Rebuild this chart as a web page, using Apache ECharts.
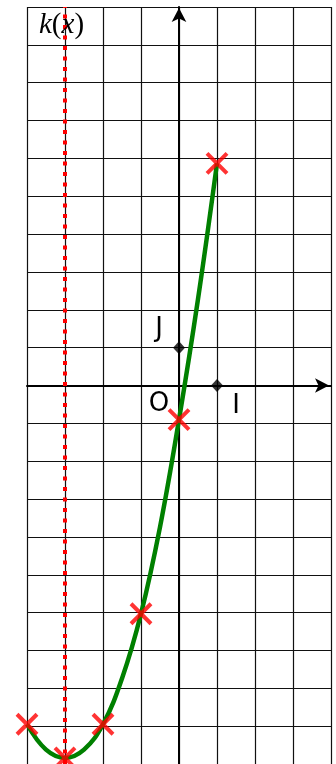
<!DOCTYPE html>
<html>
	<head>
		<meta charset="utf-8">
		<title></title>
		<style>
			html,body{margin:0;padding:0;background:#fff;}
			#main{
				width: 336px;
				height: 764px;
			}
		</style>
	</head>
	<body>
		<div id="main"></div>
		<script src="https://cdn.jsdelivr.net/npm/echarts@6/dist/echarts.min.js"></script>
		<script>
			// points of k (red crosses)
			var xs=[-4,-3,-2,-1,0,1]
			var ks=[-8.95,-9.84,-8.95,-6.03,-0.9,5.87]
			// green curve, read every half unit
			var courbeX=[-4,-3.5,-3,-2.5,-2,-1.5,-1,-0.5,0,0.5,1]
			var courbeY=[-8.95,-9.62,-9.84,-9.62,-8.95,-7.74,-6.03,-3.74,-0.9,2.28,5.87]
			var axeSym=-3   // dotted red line
			var repere=['O','I','J']
			var repereXY=[[0,0],[1,0],[0,1]]
			var pts=xs.map((x,i)=>[x,ks[i]])
			var courbe=courbeX.map((x,i)=>[x,courbeY[i]])

			var mychart=echarts.init(document.getElementById("main"))
			var grille={show:true,lineStyle:{color:'#111',width:1.2}}
			var decal={O:[-20,19],I:[19,21],J:[-20,-18]}
			var option={
				animation:false,
				grid:{left:27,right:5,top:7,bottom:-2},
				xAxis:{type:'value',min:-4,max:4,interval:1,
					axisLine:{onZero:true,lineStyle:{color:'#000',width:2},symbol:['none','arrow'],symbolSize:[11,14],symbolOffset:[0,-2]},
					axisTick:{show:false},axisLabel:{show:false},splitLine:grille},
				yAxis:{type:'value',min:-10,max:10,interval:1,
					axisLine:{onZero:true,lineStyle:{color:'#000',width:2},symbol:['none','arrow'],symbolSize:[11,14],symbolOffset:[0,-1]},
					axisTick:{show:false},axisLabel:{show:false},splitLine:grille},
				series:[
					{
						type:'line',data:courbe,smooth:0.4,showSymbol:false,
						lineStyle:{color:'#008000',width:4.5},
						markLine:{silent:true,symbol:'none',label:{show:false},
							lineStyle:{color:'#f00',width:4,type:[4,6.5]},
							data:[{xAxis:axeSym}]},
						z:3
					},
					{
						type:'scatter',data:pts,clip:false,
						symbol:'path://M0,0L10,10M10,0L0,10',symbolSize:20,
						itemStyle:{color:'rgba(0,0,0,0)',borderColor:'#f00',borderWidth:4},
						z:5
					},
					{
						type:'scatter',data:repereXY.slice(1),symbol:'diamond',symbolSize:[12,13],
						itemStyle:{color:'#000'},z:4
					}
				]
			};
			mychart.setOption(option);

			// textes du repere places par l'echelle du graphique
			var textes=repere.map((n,i)=>{
				var p=mychart.convertToPixel({gridIndex:0},repereXY[i])
				return {type:'text',x:p[0]+decal[n][0],y:p[1]+decal[n][1],z:10,
					style:{text:n,font:'26px "DejaVu Sans"',fill:'#000',align:'center',verticalAlign:'middle'}}
			})
			textes.push({type:'text',left:39,top:11,z:10,style:{
				rich:{i:{fontFamily:'Liberation Serif',fontStyle:'italic',fontSize:29,fill:'#000'},
					p:{fontFamily:'Liberation Serif',fontSize:29,fill:'#000'}},
				text:'{i|k}{p|(}{i|x}{p|)}'}})
			mychart.setOption({graphic:textes})
		</script>
	</body>
</html>
